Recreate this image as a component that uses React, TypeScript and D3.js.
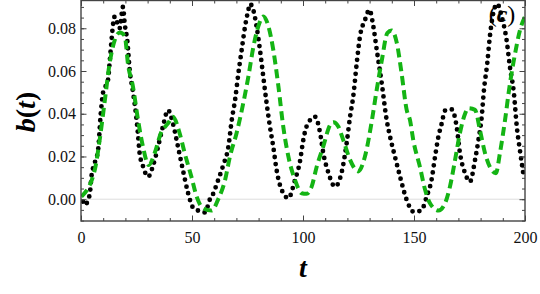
import { useEffect, useRef } from "react"
import * as d3 from "d3"

const xTicks = [0, 50, 100, 150, 200]
const yTicks = [0, 0.02, 0.04, 0.06, 0.08]

// black dotted series
const blackT = [
  0.9, 1.6, 3.9, 4.7, 6.2, 7.7, 8.9, 9.9, 12.2, 12.9, 13.7, 14.4, 15.2, 17.4, 18.9, 19.7, 20.9, 21.9, 23.4, 24.9,
  25.7, 26.4, 27.9, 30.2, 32.4, 34.7, 36.9, 39.2, 41.4, 43.7, 45.9, 48.2, 50.5, 52.1, 55.9, 58.1, 58.9, 61.8, 64.1,
  66.4, 67.9, 69.4, 70.9, 72.4, 73.9, 75.4, 76.1, 77.6, 79.1, 80.6, 82.1, 83.6, 85.1, 86.6, 88.1, 89.6, 93.4, 96.4,
  98.6, 100.1, 101.6, 105.4, 107.7, 109.1, 111.4, 114.4, 117.4, 119.7, 121.2, 122.6, 124.2, 125.7, 127.9, 129.9,
  131.7, 133.2, 135.5, 137.7, 139.2, 141.4, 143.7, 146.7, 149.7, 151.2, 153.5, 155.7, 157.9, 159.5, 161, 162.5, 164,
  167, 169.2, 170.7, 173, 175.2, 177.5, 179, 180.5, 181.5, 183, 184.2, 185.7, 187.5, 189.5, 191.7, 193.2, 195, 196.3,
  197.7, 199.2,
]
const blackB = [
  -0.0011, -0.0027, 0.002, 0.0106, 0.017, 0.023, 0.04, 0.0497, 0.056, 0.064, 0.0737, 0.0815, 0.0855, 0.08, 0.09,
  0.082, 0.0737, 0.0607, 0.0503, 0.0385, 0.03, 0.0216, 0.0155, 0.0105, 0.0155, 0.0245, 0.034, 0.0417, 0.0355, 0.0245,
  0.0137, 0.003, -0.004, -0.005, -0.0062, 0.0, 0.0012, 0.009, 0.016, 0.0246, 0.037, 0.0464, 0.059, 0.07, 0.0808,
  0.0886, 0.0914, 0.0886, 0.0808, 0.07, 0.0574, 0.045, 0.034, 0.0246, 0.0137, 0.0067, 0.0005, 0.009, 0.0175, 0.0275,
  0.034, 0.0386, 0.031, 0.0218, 0.0125, 0.0059, 0.0125, 0.0265, 0.0386, 0.0478, 0.0636, 0.0764, 0.0838, 0.0886,
  0.0808, 0.07, 0.054, 0.037, 0.0293, 0.02, 0.0106, -0.0003, -0.0058, -0.0058, -0.005, 0.0012, 0.009, 0.02, 0.0293,
  0.0355, 0.0415, 0.042, 0.034, 0.0216, 0.0122, 0.0082, 0.0184, 0.0275, 0.0386, 0.051, 0.0636, 0.0764, 0.087, 0.0914,
  0.0855, 0.0745, 0.062, 0.0496, 0.034, 0.023, 0.0122,
]

// green dashed series
const greenT = [
  0.2, 6.2, 8.4, 10.7, 12.9, 15.2, 17.5, 19.7, 21.2, 23.4, 25.7, 27.9, 30.5, 33.2, 36, 39.2, 41.4, 44.4, 46.7, 49.7,
  52.1, 55, 58.9, 61.8, 64.9, 67.1, 70.1, 73.1, 75.4, 77.6, 79.9, 82.1, 84.4, 86.6, 88.9, 91.1, 93.4, 96.4, 99.4,
  101.6, 103.9, 106.2, 109.1, 112.2, 113.7, 115.9, 118.2, 121.2, 124.9, 127.9, 130.9, 133.2, 135.5, 138, 139.9, 142.2,
  144.4, 146.7, 148.2, 149.7, 152.7, 155, 157.2, 161, 164, 166.2, 168.5, 170.7, 173, 174.5, 177.5, 179.7, 182, 186.9,
  188.7, 191, 193.2, 195.5, 197.7, 200,
]
const greenB = [
  0.0012, 0.0137, 0.0277, 0.046, 0.0636, 0.0745, 0.078, 0.0764, 0.063, 0.0527, 0.037, 0.0246, 0.016, 0.0216, 0.031,
  0.0355, 0.0386, 0.031, 0.0216, 0.0106, 0.0012, -0.0042, -0.0053, 0.0, 0.009, 0.02, 0.031, 0.045, 0.0574, 0.071,
  0.081, 0.0855, 0.081, 0.07, 0.053, 0.034, 0.02, 0.009, 0.0028, 0.0025, 0.0059, 0.0153, 0.0246, 0.0347, 0.036, 0.034,
  0.0275, 0.0184, 0.013, 0.02, 0.036, 0.0512, 0.065, 0.0778, 0.079, 0.0734, 0.059, 0.0418, 0.037, 0.0275, 0.015,
  0.0044, -0.0019, -0.0053, -0.0019, 0.0059, 0.0184, 0.031, 0.04, 0.0426, 0.0418, 0.0324, 0.0215, 0.0122, 0.0215,
  0.037, 0.054, 0.068, 0.079, 0.0855,
]

const serif = "'Liberation Serif', 'DejaVu Serif', serif"

const App = () => {
  const svgRef = useRef<SVGSVGElement>(null)

  useEffect(() => {
    if (!svgRef.current) return
    const svg = d3.select(svgRef.current)
    svg.selectAll("*").remove()

    const width = 540
    const height = 294
    const margin = { top: 0.5, right: 15, bottom: 73, left: 81 }
    const innerWidth = width - margin.left - margin.right
    const innerHeight = height - margin.top - margin.bottom

    const g = svg.append("g").attr("transform", `translate(${margin.left},${margin.top})`)

    const x = d3.scaleLinear().domain([0, 200]).range([0, innerWidth])
    const y = d3.scaleLinear().domain([-0.0102, 0.093]).range([innerHeight, 0])

    // light zero line
    g.append("line")
      .attr("x1", 0)
      .attr("x2", innerWidth)
      .attr("y1", y(0))
      .attr("y2", y(0))
      .attr("stroke", "#dddddd")
      .attr("stroke-width", 1)

    svg.append("defs")
      .append("clipPath")
      .attr("id", "plot-clip")
      .append("rect")
      .attr("width", innerWidth)
      .attr("height", innerHeight)

    const plot = g.append("g").attr("clip-path", "url(#plot-clip)")

    const line = d3
      .line<[number, number]>()
      .x((d) => x(d[0]))
      .y((d) => y(d[1]))
      .curve(d3.curveMonotoneX)

    const blackData = blackT.map((t, i) => [t, blackB[i]] as [number, number])
    const greenData = greenT.map((t, i) => [t, greenB[i]] as [number, number])

    // black dots
    plot.append("path")
      .datum(blackData)
      .attr("fill", "none")
      .attr("stroke", "#000")
      .attr("stroke-width", 4.8)
      .attr("stroke-linecap", "round")
      .attr("stroke-dasharray", "0 7")
      .attr("d", line)

    // green dashes
    plot.append("path")
      .datum(greenData)
      .attr("fill", "none")
      .attr("stroke", "#14b414")
      .attr("stroke-width", 4)
      .attr("stroke-dasharray", "9 5")
      .attr("d", line)

    const styleAxis = (sel: d3.Selection<SVGGElement, unknown, null, undefined>) => {
      sel.select(".domain").remove()
      sel.attr("font-family", null).attr("font-size", null)
      sel.selectAll("line").attr("stroke", "#444").attr("stroke-width", 1)
      sel.selectAll("text")
        .style("font-family", serif)
        .style("font-size", "16px")
        .attr("fill", "#111")
    }

    const xMinor = d3.range(0, 21).map((i) => i * 10)
    const yMinor = d3.range(-2, 19).map((i) => i * 0.005)

    // bottom
    g.append("g")
      .attr("transform", `translate(0,${innerHeight})`)
      .call(d3.axisBottom(x).tickValues(xMinor).tickSize(-3).tickFormat(() => ""))
      .call(styleAxis)
    g.append("g")
      .attr("transform", `translate(0,${innerHeight})`)
      .call(d3.axisBottom(x).tickValues(xTicks).tickSize(-5.5).tickPadding(10.5).tickFormat(d3.format("d")))
      .call(styleAxis)
    // top
    g.append("g").call(d3.axisTop(x).tickValues(xMinor).tickSize(-3).tickFormat(() => "")).call(styleAxis)
    g.append("g").call(d3.axisTop(x).tickValues(xTicks).tickSize(-5.5).tickFormat(() => "")).call(styleAxis)
    // left
    g.append("g").call(d3.axisLeft(y).tickValues(yMinor).tickSize(-3).tickFormat(() => "")).call(styleAxis)
    g.append("g")
      .call(d3.axisLeft(y).tickValues(yTicks).tickSize(-5.5).tickPadding(5).tickFormat(d3.format(".2f")))
      .call(styleAxis)
    // right
    g.append("g")
      .attr("transform", `translate(${innerWidth},0)`)
      .call(d3.axisRight(y).tickValues(yMinor).tickSize(-3).tickFormat(() => ""))
      .call(styleAxis)
    g.append("g")
      .attr("transform", `translate(${innerWidth},0)`)
      .call(d3.axisRight(y).tickValues(yTicks).tickSize(-5.5).tickFormat(() => ""))
      .call(styleAxis)

    // frame
    g.append("rect")
      .attr("width", innerWidth)
      .attr("height", innerHeight)
      .attr("fill", "none")
      .attr("stroke", "#444")
      .attr("stroke-width", 1.4)

    // y label
    const yl = svg.append("text")
      .attr("transform", `translate(35,112) rotate(-90)`)
      .attr("text-anchor", "middle")
      .style("font-family", serif)
      .style("font-size", "28px")
      .style("font-weight", "bold")
    yl.append("tspan").style("font-style", "italic").text("b")
    yl.append("tspan").text("(")
    yl.append("tspan").style("font-style", "italic").text("t")
    yl.append("tspan").text(")")

    // x label
    svg.append("text")
      .attr("x", margin.left + x(100))
      .attr("y", 277)
      .attr("text-anchor", "middle")
      .style("font-family", serif)
      .style("font-size", "28px")
      .style("font-weight", "bold")
      .style("font-style", "italic")
      .text("t")

    // panel tag
    const tag = svg.append("text")
      .attr("x", 502)
      .attr("y", 22)
      .attr("text-anchor", "middle")
      .style("font-family", serif)
      .style("font-size", "24px")
    tag.append("tspan").text("(")
    tag.append("tspan").style("font-weight", "bold").style("font-style", "italic").text("c")
    tag.append("tspan").text(")")
  }, [])

  return (
    <svg
      ref={svgRef}
      width={540}
      height={294}
      style={{ position: "absolute", left: 0, top: 0, background: "#fff" }}
    />
  )
}

export default App
